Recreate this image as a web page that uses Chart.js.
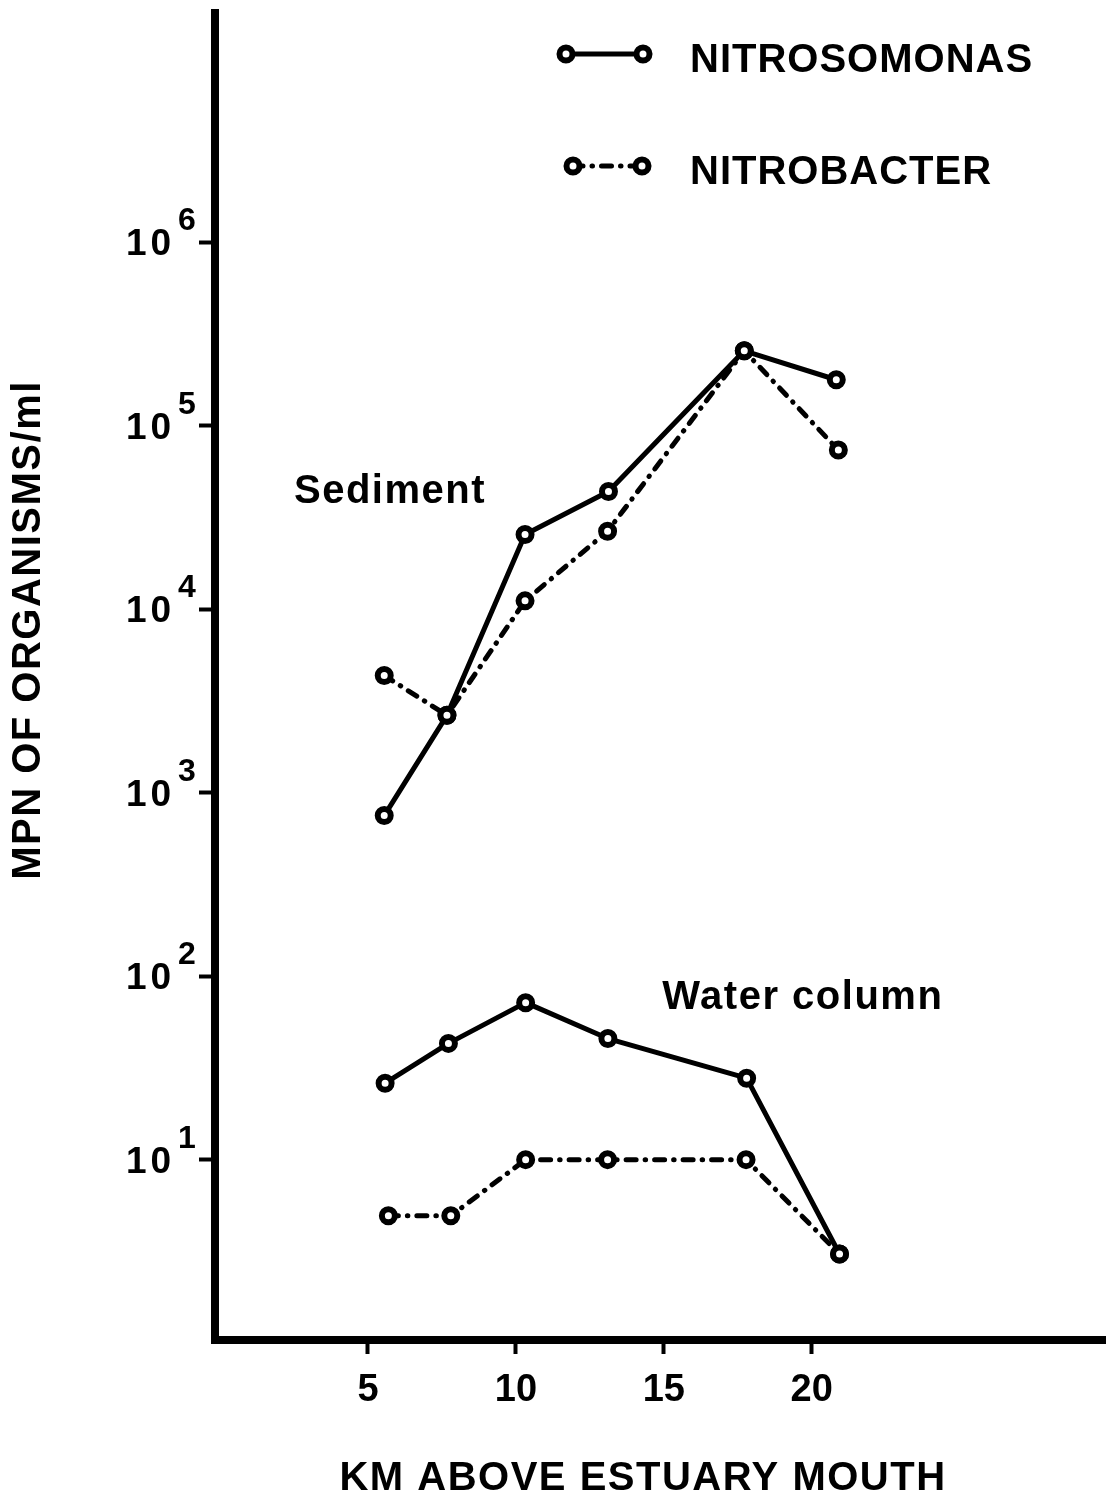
<!DOCTYPE html>
<html>
<head>
<meta charset="utf-8">
<title>MPN of nitrifying organisms</title>
<script src="https://cdn.jsdelivr.net/npm/chart.js@4.4.1/dist/chart.umd.min.js"></script>
<style>
  html, body { margin: 0; padding: 0; background: #fff; }
  canvas { display: block; }
</style>
</head>
<body>
<canvas id="mpnChart" width="1118" height="1495"></canvas>
<script>
// km above the estuary mouth and MPN of organisms per ml
var sedNitrosoKm = [5.55, 7.67, 10.31, 13.13, 17.72, 20.83];
var sedNitroso = [750, 2640, 25500, 43800, 256000, 178000];
var sedNitrobKm = [5.55, 7.67, 10.31, 13.1, 17.72, 20.9];
var sedNitrob = [4350, 2640, 11100, 26600, 256000, 73700];
var watNitrosoKm = [5.58, 7.72, 10.33, 13.11, 17.8, 20.94];
var watNitroso = [26.1, 43, 71.7, 45.7, 27.8, 3.06];
var watNitrobKm = [5.69, 7.8, 10.33, 13.1, 17.78, 20.94];
var watNitrob = [4.94, 4.94, 10, 10, 10, 3.06];

var xTicks = [5, 10, 15, 20];
var yTicks = [10, 100, 1000, 10000, 100000, 1000000];
var legendLabels = ['NITROSOMONAS', 'NITROBACTER'];
var noteText = ['Sediment', 'Water column'];
var noteKm = [2.5, 14.95];
var noteMpn = [38000, 66];

var FONT = '"Liberation Sans", Arial, Helvetica, sans-serif';
var dashDot = [10, 9, 0.5, 9];

function pts(xs, ys) {
    return xs.map(function (x, i) { return { x: x, y: ys[i] }; });
}

function series(label, data, dashed) {
    return {
        label: label,
        data: data,
        borderColor: '#000',
        borderWidth: 5,
        borderDash: dashed ? dashDot : [],
        borderCapStyle: 'round',
        borderJoinStyle: 'round',
        tension: 0,
        pointRadius: 6.5,
        pointBorderWidth: 6,
        pointBorderColor: '#000',
        pointBackgroundColor: '#fff'
    };
}

function marker(c, x, y) {
    c.beginPath();
    c.arc(x, y, 6.5, 0, Math.PI * 2);
    c.fillStyle = '#fff';
    c.fill();
    c.lineWidth = 6;
    c.strokeStyle = '#000';
    c.stroke();
}

// tick labels with exponents, legend, notes and axis titles
var decorations = {
    id: 'decorations',
    afterDraw: function (chart) {
        var c = chart.ctx, xs = chart.scales.x, ys = chart.scales.y;
        c.save();
        c.fillStyle = '#000';
        c.textBaseline = 'alphabetic';
        c.textAlign = 'left';

        yTicks.forEach(function (v) {
            var py = ys.getPixelForValue(v);
            c.font = 'bold 37px ' + FONT;
            c.letterSpacing = '4px';
            c.fillText('10', 126, py + 13);
            c.letterSpacing = '0px';
            c.font = 'bold 32px ' + FONT;
            c.fillText(String(Math.round(Math.log10(v))), 178, py - 12);
        });

        // legend
        var rows = [{ y: 54, x1: 566, x2: 643, dash: [] }, { y: 166, x1: 573, x2: 642, dash: dashDot }];
        rows.forEach(function (r, i) {
            c.beginPath();
            c.setLineDash(r.dash);
            c.lineCap = 'round';
            c.lineWidth = 5;
            c.strokeStyle = '#000';
            c.moveTo(r.x1, r.y);
            c.lineTo(r.x2, r.y);
            c.stroke();
            c.setLineDash([]);
            marker(c, r.x1, r.y);
            marker(c, r.x2, r.y);
            c.fillStyle = '#000';
            c.font = 'bold 40px ' + FONT;
            c.letterSpacing = '1px';
            c.fillText(legendLabels[i], 690, r.y + 18);
        });

        // panel notes
        c.font = 'bold 40px ' + FONT;
        c.letterSpacing = '1.5px';
        noteText.forEach(function (t, i) {
            c.fillText(t, xs.getPixelForValue(noteKm[i]), ys.getPixelForValue(noteMpn[i]));
        });

        // axis titles
        c.font = 'bold 40px ' + FONT;
        c.letterSpacing = '1.5px';
        c.textAlign = 'center';
        c.fillText('KM ABOVE ESTUARY MOUTH', 643, 1490);
        c.translate(40, 630);
        c.rotate(-Math.PI / 2);
        c.fillText('MPN OF ORGANISMS/ml', 0, 0);
        c.restore();
    }
};

var ctx = document.getElementById('mpnChart').getContext('2d');
var mpnChart = new Chart(ctx, {
    type: 'line',
    data: {
        datasets: [
            series('Sediment NITROSOMONAS', pts(sedNitrosoKm, sedNitroso), false),
            series('Sediment NITROBACTER', pts(sedNitrobKm, sedNitrob), true),
            series('Water column NITROSOMONAS', pts(watNitrosoKm, watNitroso), false),
            series('Water column NITROBACTER', pts(watNitrobKm, watNitrob), true)
        ]
    },
    options: {
        responsive: false,
        animation: false,
        events: [],
        layout: { padding: { top: 5, right: 0, left: 0, bottom: 0 } },
        plugins: {
            legend: { display: false },
            tooltip: { enabled: false }
        },
        scales: {
            x: {
                type: 'linear',
                min: -0.17,
                max: 29.93,
                afterBuildTicks: function (scale) {
                    scale.ticks = xTicks.map(function (v) { return { value: v }; });
                },
                afterFit: function (scale) { scale.height = 155; },
                border: { display: true, color: '#000', width: 8 },
                grid: {
                    drawOnChartArea: false,
                    drawTicks: true,
                    tickLength: 14,
                    tickWidth: 4,
                    tickColor: '#000'
                },
                ticks: {
                    color: '#000',
                    padding: 14,
                    maxRotation: 0,
                    font: { family: FONT, size: 38, weight: 'bold' }
                }
            },
            y: {
                type: 'logarithmic',
                min: 1.04,
                max: 17860000,
                afterBuildTicks: function (scale) {
                    scale.ticks = yTicks.map(function (v) { return { value: v }; });
                },
                afterFit: function (scale) { scale.width = 215; },
                border: { display: true, color: '#000', width: 8 },
                grid: {
                    drawOnChartArea: false,
                    drawTicks: true,
                    tickLength: 16,
                    tickWidth: 4,
                    tickColor: '#000'
                },
                ticks: { display: false }
            }
        }
    },
    plugins: [decorations]
});
</script>
</body>
</html>
